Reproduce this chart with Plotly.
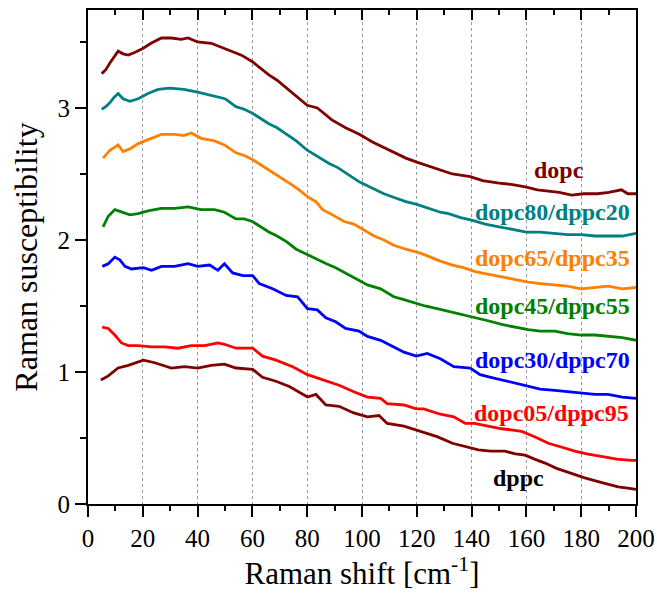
import plotly.graph_objects as go

# ---------------- data ----------------
dopc_x = [5, 6.5, 8, 9.5, 11, 12.8, 14.7, 17, 20, 23, 26.8, 30.4, 34, 36.5, 40, 45, 49.8, 52.8, 56, 60, 63, 66, 69, 72, 76, 80, 83.7, 86, 89, 94, 99, 104, 108, 112, 116, 120, 126, 133, 139.5, 144, 150, 155, 160, 164, 168, 172, 176.5, 181, 186, 190, 194.7, 197, 200]
dopc_y = [3.26, 3.29, 3.34, 3.39, 3.43, 3.41, 3.40, 3.42, 3.45, 3.49, 3.53, 3.53, 3.52, 3.53, 3.50, 3.49, 3.45, 3.43, 3.40, 3.35, 3.30, 3.25, 3.21, 3.16, 3.09, 3.02, 3.00, 2.96, 2.91, 2.85, 2.80, 2.74, 2.70, 2.66, 2.62, 2.59, 2.55, 2.50, 2.48, 2.45, 2.43, 2.42, 2.40, 2.38, 2.37, 2.36, 2.34, 2.35, 2.35, 2.36, 2.38, 2.35, 2.35]

d80_x = [5, 6.5, 8, 9.5, 11, 12.8, 15.3, 18.3, 21.9, 25.6, 29.8, 35, 40, 46, 50, 54, 57, 60, 63, 66, 69, 72, 76, 80, 84, 88, 91, 94, 99, 104, 108, 112, 116, 120, 124, 128.6, 131.6, 136, 140, 145, 150, 155, 160, 165, 170, 175, 180, 185, 190, 195, 200]
d80_y = [2.99, 3.01, 3.04, 3.08, 3.11, 3.07, 3.05, 3.07, 3.11, 3.14, 3.15, 3.14, 3.12, 3.09, 3.07, 3.01, 2.99, 2.96, 2.92, 2.88, 2.85, 2.81, 2.75, 2.68, 2.63, 2.58, 2.55, 2.51, 2.44, 2.39, 2.35, 2.32, 2.29, 2.27, 2.24, 2.21, 2.20, 2.17, 2.15, 2.12, 2.10, 2.08, 2.06, 2.06, 2.05, 2.04, 2.04, 2.03, 2.03, 2.03, 2.05]

d65_x = [5.5, 7, 8, 9.5, 11, 12.8, 15.3, 18.3, 21.9, 26.8, 31.6, 35, 37.7, 41.3, 46.2, 49.8, 54, 57, 60, 63, 66, 69, 72.3, 75, 77, 80.7, 83.2, 85.6, 89.2, 93.5, 97, 101, 104.4, 108, 111.6, 116, 121.3, 125, 128.6, 133, 137, 141.3, 145.6, 151, 156, 160.7, 165, 170.4, 175, 180, 185, 189.8, 195, 200]
d65_y = [2.62, 2.66, 2.68, 2.70, 2.72, 2.67, 2.69, 2.73, 2.76, 2.80, 2.80, 2.79, 2.81, 2.77, 2.75, 2.72, 2.66, 2.64, 2.61, 2.57, 2.53, 2.49, 2.45, 2.41, 2.38, 2.32, 2.29, 2.23, 2.19, 2.14, 2.12, 2.07, 2.03, 2.00, 1.96, 1.93, 1.90, 1.87, 1.84, 1.81, 1.79, 1.76, 1.74, 1.72, 1.70, 1.68, 1.67, 1.66, 1.65, 1.63, 1.64, 1.65, 1.63, 1.64]

d45_x = [5.5, 7.4, 9.8, 12.8, 15.3, 18.3, 21.9, 26.8, 31.6, 36.5, 41.3, 46.2, 49.8, 54, 57, 60, 63, 66, 69, 72.3, 76, 80, 84.4, 87, 90.4, 94, 98.9, 102, 106.8, 111.6, 115, 119.8, 123, 127.4, 131.6, 136, 141.3, 145.6, 151, 156, 160.7, 165, 170.4, 175, 180, 185, 189.8, 195, 200]
d45_y = [2.10, 2.18, 2.23, 2.21, 2.19, 2.20, 2.22, 2.24, 2.24, 2.25, 2.23, 2.23, 2.21, 2.16, 2.16, 2.14, 2.10, 2.06, 2.03, 1.99, 1.93, 1.89, 1.84, 1.82, 1.79, 1.75, 1.70, 1.66, 1.63, 1.57, 1.55, 1.52, 1.50, 1.48, 1.46, 1.44, 1.41, 1.39, 1.36, 1.34, 1.32, 1.31, 1.31, 1.29, 1.28, 1.28, 1.27, 1.26, 1.24]

d30_x = [5.2, 7.4, 9.8, 11.6, 13.5, 15.9, 20.2, 23.2, 26.8, 31.6, 36.5, 40, 44.4, 47.4, 49.8, 52.8, 56.5, 60.1, 62.5, 67.4, 72.3, 76.5, 80.1, 83.7, 86.8, 90.4, 94, 98.9, 102, 106.8, 111.6, 115.3, 119.8, 123.8, 128.6, 133.5, 139.5, 143.1, 147, 151, 156, 160.7, 165, 170.4, 175, 180, 185, 189.8, 195, 200]
d30_y = [1.80, 1.82, 1.87, 1.85, 1.80, 1.78, 1.79, 1.77, 1.80, 1.80, 1.82, 1.80, 1.81, 1.77, 1.82, 1.75, 1.73, 1.73, 1.67, 1.63, 1.58, 1.57, 1.48, 1.47, 1.41, 1.38, 1.33, 1.31, 1.27, 1.24, 1.19, 1.15, 1.12, 1.14, 1.10, 1.04, 1.03, 0.98, 0.96, 0.94, 0.91, 0.89, 0.87, 0.86, 0.85, 0.84, 0.83, 0.83, 0.81, 0.80]

d05_x = [5.2, 7.4, 9.8, 12.2, 14.7, 18.3, 23.2, 28, 32.8, 37.7, 42.5, 47.4, 49.8, 54, 60.1, 63.7, 68.6, 74.7, 80.1, 85.6, 91.6, 97, 102, 106.8, 109.2, 115.3, 119.8, 122.5, 128.6, 133.5, 137.7, 141, 145.6, 151, 155, 158.3, 163, 168, 173, 177.7, 182, 187.4, 193, 198.3, 200]
d05_y = [1.34, 1.33, 1.28, 1.22, 1.20, 1.20, 1.19, 1.19, 1.18, 1.20, 1.20, 1.22, 1.21, 1.18, 1.18, 1.12, 1.09, 1.04, 0.98, 0.94, 0.90, 0.85, 0.81, 0.80, 0.76, 0.75, 0.72, 0.72, 0.68, 0.66, 0.61, 0.61, 0.59, 0.57, 0.56, 0.55, 0.51, 0.46, 0.43, 0.40, 0.38, 0.36, 0.34, 0.33, 0.33]

dppc_x = [4.7, 7.4, 11, 14.7, 20.2, 24.4, 30.4, 35.3, 40, 45, 49.8, 54, 60.1, 63.7, 68.6, 73.5, 80.1, 83.2, 86.8, 91.6, 97, 102, 106.2, 109.2, 115.3, 121.3, 127.4, 133, 138.3, 142.5, 147, 152.2, 156, 159.5, 163, 166.8, 171, 176.5, 181, 186.2, 190, 193.5, 197, 200]
dppc_y = [0.94, 0.97, 1.03, 1.05, 1.09, 1.07, 1.03, 1.04, 1.03, 1.05, 1.06, 1.03, 1.02, 0.96, 0.93, 0.89, 0.81, 0.83, 0.75, 0.74, 0.69, 0.66, 0.67, 0.61, 0.59, 0.55, 0.51, 0.46, 0.43, 0.41, 0.40, 0.40, 0.38, 0.37, 0.34, 0.31, 0.27, 0.23, 0.20, 0.17, 0.15, 0.13, 0.12, 0.11]

series_names = ["dopc", "dopc80/dppc20", "dopc65/dppc35", "dopc45/dppc55",
                "dopc30/dppc70", "dopc05/dppc95", "dppc"]
series_x = [dopc_x, d80_x, d65_x, d45_x, d30_x, d05_x, dppc_x]
series_y = [dopc_y, d80_y, d65_y, d45_y, d30_y, d05_y, dppc_y]
colors = ["#800000", "#008080", "#FF8000", "#008000", "#0000FF", "#FF0000", "#800000"]
label_colors = ["#800000", "#008080", "#FF8000", "#008000", "#0000FF", "#FF0000", "#000000"]
# label anchor points (data coordinates)
label_x = [172, 198.5, 198.5, 198.5, 198.5, 198.2, 157]
label_y = [2.53, 2.21, 1.86, 1.50, 1.09, 0.69, 0.20]
label_anchor = ["center", "right", "right", "right", "right", "right", "center"]

x_ticks = [0, 20, 40, 60, 80, 100, 120, 140, 160, 180, 200]
y_ticks = [0, 1, 2, 3]

FONT = "Liberation Serif, Times New Roman, serif"

fig = go.Figure()
for nm, xs, ys, c in zip(series_names, series_x, series_y, colors):
    fig.add_trace(go.Scatter(x=xs, y=ys, mode="lines", name=nm,
                             line=dict(color=c, width=2.8), showlegend=False))

# invisible trace to activate the top axis (inward ticks)
fig.add_trace(go.Scatter(x=[0, 200], y=[0, 0], xaxis="x2", mode="lines",
                         line=dict(width=0), showlegend=False, hoverinfo="skip"))

for nm, lx, ly, la, lc in zip(series_names, label_x, label_y, label_anchor, label_colors):
    fig.add_annotation(x=lx, y=ly, text="<b>%s</b>" % nm, showarrow=False,
                       xanchor=la, yanchor="middle",
                       font=dict(family=FONT, size=24, color=lc))

fig.update_layout(
    width=657, height=597,
    margin=dict(l=88, r=21, t=10, b=93, autoexpand=False),
    paper_bgcolor="white", plot_bgcolor="white",
    font=dict(family=FONT, color="black"),
    xaxis=dict(
        range=[0, 200], tickvals=x_ticks, ticktext=[str(v) for v in x_ticks],
        automargin=False,
        ticks="outside", ticklen=11, tickwidth=2, tickcolor="black",
        minor=dict(dtick=10, tick0=0, ticks="outside", ticklen=5, tickwidth=2,
                   tickcolor="black", showgrid=False),
        showline=True, linewidth=2, linecolor="black", mirror=True,
        showgrid=True, gridcolor="#9a9a9a", griddash="dot", gridwidth=1,
        zeroline=False, tickfont=dict(family=FONT, size=25, color="black"),
        title=dict(text="Raman shift [cm<sup>-1</sup>]", standoff=6,
                   font=dict(family=FONT, size=31, color="black")),
    ),
    xaxis2=dict(
        range=[0, 200], overlaying="x", side="top", tickvals=x_ticks,
        automargin=False,
        showticklabels=False, ticks="inside", ticklen=10, tickwidth=2, tickcolor="black",
        minor=dict(dtick=10, tick0=0, ticks="inside", ticklen=5, tickwidth=2,
                   tickcolor="black", showgrid=False),
        showline=False, showgrid=False, zeroline=False,
    ),
    yaxis=dict(
        range=[0, 3.742], tickvals=y_ticks, ticktext=[str(v) for v in y_ticks],
        automargin=False,
        ticks="outside", ticklen=11, tickwidth=2, tickcolor="black",
        minor=dict(dtick=0.5, tick0=0, ticks="outside", ticklen=6, tickwidth=2,
                   tickcolor="black", showgrid=False),
        showline=True, linewidth=2, linecolor="black", mirror=True,
        showgrid=False, zeroline=False,
        tickfont=dict(family=FONT, size=25, color="black"),
        title=dict(text="Raman susceptibility", standoff=10,
                   font=dict(family=FONT, size=32, color="black")),
    ),
)

fig.write_html("out.html")
